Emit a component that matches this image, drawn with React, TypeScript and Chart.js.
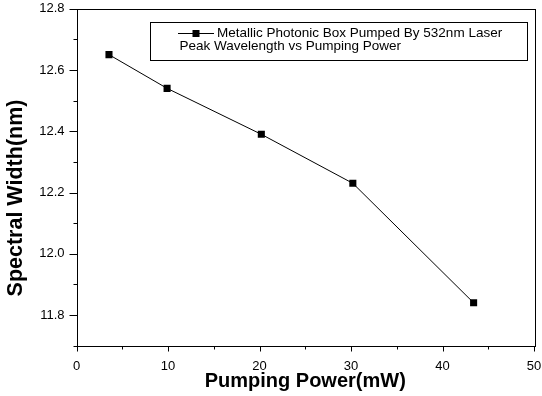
import React, { useEffect, useRef } from "react";
import { Chart, registerables } from "chart.js";

Chart.register(...registerables);

const xValues = [3.55, 9.9, 20.2, 30.2, 43.4];
const yValues = [12.65, 12.54, 12.39, 12.23, 11.84];
const xTickValues = [0, 10, 20, 30, 40, 50];
const xMinorTickValues = [5, 15, 25, 35, 45];
const yTickValues = [11.8, 12.0, 12.2, 12.4, 12.6, 12.8];
const yMinorTickValues = [11.7, 11.9, 12.1, 12.3, 12.5, 12.7];
const legendLine1 = "Metallic Photonic Box Pumped By 532nm Laser";
const legendLine2 = "Peak Wavelength vs Pumping Power";
const xTitle = "Pumping Power(mW)";
const yTitle = "Spectral Width(nm)";

const FONT = "'Liberation Sans', Arial, sans-serif";

const framePlugin = {
  id: "frame",
  afterDraw(chart: any) {
    const { ctx, chartArea: a, scales } = chart;
    const xs = scales.x;
    const ys = scales.y;
    ctx.save();
    ctx.strokeStyle = "#000";
    ctx.lineWidth = 1;
    ctx.strokeRect(Math.round(a.left) + 0.5, Math.round(a.top) + 0.5, Math.round(a.right - a.left), Math.round(a.bottom - a.top));
    ctx.beginPath();
    const bottom = Math.round(a.bottom) + 0.5;
    const left = Math.round(a.left) + 0.5;
    xTickValues.forEach((v) => {
      const px = Math.round(xs.getPixelForValue(v)) + 0.5;
      ctx.moveTo(px, bottom);
      ctx.lineTo(px, bottom + 5);
    });
    xMinorTickValues.forEach((v) => {
      const px = Math.round(xs.getPixelForValue(v)) + 0.5;
      ctx.moveTo(px, bottom);
      ctx.lineTo(px, bottom + 3);
    });
    yTickValues.forEach((v) => {
      const py = Math.round(ys.getPixelForValue(v)) + 0.5;
      ctx.moveTo(left, py);
      ctx.lineTo(left - 8, py);
    });
    yMinorTickValues.forEach((v) => {
      const py = Math.round(ys.getPixelForValue(v)) + 0.5;
      ctx.moveTo(left, py);
      ctx.lineTo(left - 4, py);
    });
    ctx.stroke();

    // Legend
    ctx.strokeRect(150.5, 22.5, 377, 38);
    ctx.beginPath();
    ctx.moveTo(178, 33.5);
    ctx.lineTo(214, 33.5);
    ctx.stroke();
    ctx.fillStyle = "#000";
    ctx.fillRect(192.5, 30, 7, 7);
    ctx.font = `13.5px ${FONT}`;
    ctx.textBaseline = "alphabetic";
    ctx.textAlign = "left";
    ctx.fillText(legendLine1, 217, 37);
    ctx.fillText(legendLine2, 179.5, 50);

    // Axis titles
    ctx.font = `bold 20px ${FONT}`;
    ctx.textAlign = "center";
    ctx.fillText(xTitle, (a.left + a.right) / 2, 387);
    ctx.save();
    ctx.translate(22, 198);
    ctx.rotate(-Math.PI / 2);
    ctx.font = `bold 21.5px ${FONT}`;
    ctx.fillText(yTitle, 0, 0);
    ctx.restore();
    ctx.restore();
  },
};

export default function App() {
  const ref = useRef<HTMLCanvasElement>(null);
  useEffect(() => {
    if (!ref.current) return;
    const chart = new Chart(ref.current, {
      type: "line",
      data: {
        datasets: [
          {
            data: xValues.map((x, i) => ({ x, y: yValues[i] })),
            borderColor: "#000",
            backgroundColor: "#000",
            borderWidth: 1,
            pointStyle: "rect",
            pointRadius: 5,
            pointBorderWidth: 0,
            pointBackgroundColor: "#000",
            tension: 0,
          },
        ],
      },
      options: {
        responsive: false,
        animation: false,
        plugins: { legend: { display: false }, tooltip: { enabled: false } },
        layout: { padding: { left: 0, top: 8.7, right: 8, bottom: 0 } },
        scales: {
          x: {
            type: "linear",
            min: 0,
            max: 50,
            afterBuildTicks: (s: any) => {
              s.ticks = xTickValues.map((v) => ({ value: v }));
            },
            afterFit: (s: any) => {
              s.height = 50.3;
            },
            grid: { display: false, drawTicks: true, tickLength: 13 },
            border: { display: false },
            ticks: {
              padding: 0,
              color: "#000",
              font: { family: FONT, size: 13 },
              maxRotation: 0,
            },
          },
          y: {
            type: "linear",
            min: 11.7,
            max: 12.8,
            afterBuildTicks: (s: any) => {
              s.ticks = yTickValues.map((v) => ({ value: v }));
            },
            afterFit: (s: any) => {
              s.width = 76.5;
            },
            grid: { display: false, drawTicks: true, tickLength: 12 },
            border: { display: false },
            ticks: {
              padding: 0,
              color: "#000",
              font: { family: FONT, size: 13 },
              callback: (v: any) => Number(v).toFixed(1),
            },
          },
        },
      },
      plugins: [framePlugin],
    });
    return () => chart.destroy();
  }, []);
  return (
    <div style={{ position: "fixed", left: 0, top: 0, width: 542, height: 396, background: "#fff" }}>
      <canvas ref={ref} width={542} height={396} />
    </div>
  );
}
